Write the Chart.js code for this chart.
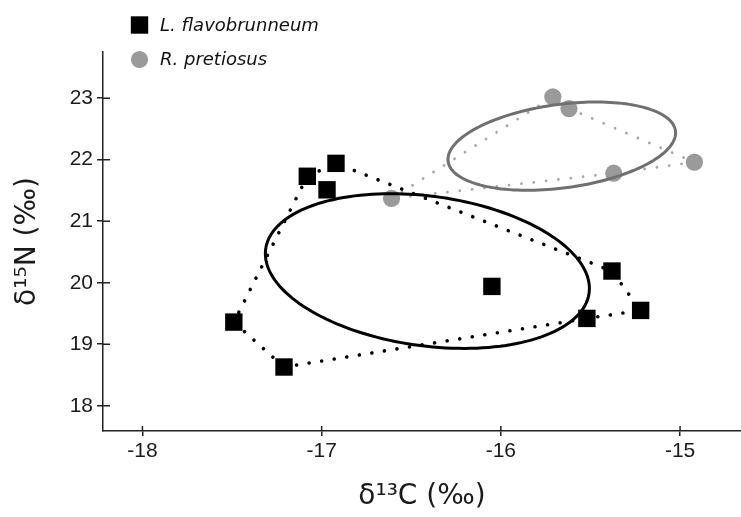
<!DOCTYPE html>
<html lang="en">

<head>
  <meta charset="UTF-8">
  <title>Isotopic niches - L. flavobrunneum vs R. pretiosus</title>
  <script src="https://cdn.jsdelivr.net/npm/chart.js"></script>
  <style>
    * {
      margin: 0;
      padding: 0;
      box-sizing: border-box;
    }

    html,
    body {
      background: #fff;
      overflow: hidden;
    }

    .chart-box {
      position: relative;
      width: 741px;
      height: 517px;
    }

    canvas {
      display: block;
    }
  </style>
</head>

<body>
  <div class="chart-box">
    <canvas id="isoChart"></canvas>
  </div>

  <script>
    // L. flavobrunneum (d13C, d15N)
    const lfCarbon = [-17.49, -17.21, -17.08, -16.97, -16.92, -16.05, -15.52, -15.38, -15.22];
    const lfNitrogen = [19.36, 18.63, 21.73, 21.51, 21.94, 19.94, 19.42, 20.19, 19.55];
    const lfHull = [1, 6, 8, 7, 4, 2, 0, 1];
    // standard ellipse: centre x, centre y, semi-axis 1, semi-axis 2, angle of axis 1 (deg)
    const lfEllipse = [-16.41, 20.19, 0.860, 1.288, 16.9];

    // R. pretiosus
    const rpCarbon = [-16.61, -15.71, -15.62, -15.37, -14.92];
    const rpNitrogen = [21.37, 23.02, 22.83, 21.78, 21.96];
    const rpHull = [0, 1, 2, 4, 3, 0];
    const rpEllipse = [-15.66, 22.22, 0.779, 0.558, 56.1];

    const xTicks = [-18, -17, -16, -15];
    const yTicks = [18, 19, 20, 21, 22, 23];
    const xRange = [-18.22, -14.66];
    const yRange = [17.59, 23.75];

    const toPoints = (xs, ys) => xs.map((v, i) => ({ x: v, y: ys[i] }));
    const hullPoints = (xs, ys, order) => order.map(i => ({ x: xs[i], y: ys[i] }));

    function drawEllipse(chart, ell, color) {
      const { ctx, scales: { x, y } } = chart;
      const [cx, cy, r1, r2, deg] = ell;
      const a = deg * Math.PI / 180;
      ctx.save();
      ctx.beginPath();
      for (let i = 0; i <= 160; i++) {
        const t = i / 160 * Math.PI * 2;
        const dx = r1 * Math.cos(t) * Math.cos(a) - r2 * Math.sin(t) * Math.sin(a);
        const dy = r1 * Math.cos(t) * Math.sin(a) + r2 * Math.sin(t) * Math.cos(a);
        const px = x.getPixelForValue(cx + dx);
        const py = y.getPixelForValue(cy + dy);
        if (i === 0) ctx.moveTo(px, py); else ctx.lineTo(px, py);
      }
      ctx.closePath();
      ctx.lineWidth = 3;
      ctx.strokeStyle = color;
      ctx.stroke();
      ctx.restore();
    }

    // ellipses go on top of the grey points but under the squares
    const ellipsePlugin = {
      id: 'ellipses',
      afterDatasetDraw(chart, args) {
        if (args.index !== 1) return;
        drawEllipse(chart, rpEllipse, '#707070');
        drawEllipse(chart, lfEllipse, '#000');
      }
    };

    // small tick marks that cross into the plot area
    const innerTicks = {
      id: 'innerTicks',
      afterDraw(chart) {
        const { ctx, chartArea, scales: { x, y } } = chart;
        ctx.save();
        ctx.strokeStyle = '#222';
        ctx.lineWidth = 1.5;
        ctx.beginPath();
        x.ticks.forEach(t => {
          const px = x.getPixelForValue(t.value);
          ctx.moveTo(px, chartArea.bottom);
          ctx.lineTo(px, chartArea.bottom - 5);
        });
        y.ticks.forEach(t => {
          const py = y.getPixelForValue(t.value);
          ctx.moveTo(chartArea.left, py);
          ctx.lineTo(chartArea.left + 7, py);
        });
        ctx.stroke();
        ctx.restore();
      }
    };

    // legend in the top left corner, two rows
    const cornerLegend = {
      id: 'cornerLegend',
      afterDraw(chart) {
        const ctx = chart.ctx;
        [0, 1].forEach(i => {
          const ds = chart.data.datasets[i];
          const cy = 25 + i * 34.5;
          ctx.save();
          ctx.fillStyle = ds.backgroundColor;
          Chart.helpers.drawPoint(ctx, { pointStyle: ds.pointStyle, radius: ds.pointRadius, borderWidth: 0, rotation: 0 }, 139.5, cy);
          ctx.font = 'italic 18px "DejaVu Sans"';
          ctx.textBaseline = 'middle';
          ctx.fillStyle = '#111';
          ctx.fillText(ds.label, 160, cy + 1);
          ctx.restore();
        });
      }
    };

    const tickFont = { family: '"Liberation Sans", Arial, sans-serif', size: 21 };
    const titleFont = { family: '"DejaVu Sans", Verdana, sans-serif', size: 28 };

    new Chart(document.getElementById('isoChart'), {
      type: 'scatter',
      data: {
        datasets: [{
            label: 'L. flavobrunneum',
            data: toPoints(lfCarbon, lfNitrogen),
            pointStyle: 'rect',
            pointRadius: 12.3,
            backgroundColor: '#000',
            borderWidth: 0,
          },
          {
            label: 'R. pretiosus',
            data: toPoints(rpCarbon, rpNitrogen),
            pointStyle: 'circle',
            pointRadius: 8.6,
            backgroundColor: '#9a9a9a',
            borderWidth: 0,
          },
          {
            label: 'L. flavobrunneum hull',
            data: hullPoints(lfCarbon, lfNitrogen, lfHull),
            showLine: true,
            pointRadius: 0,
            borderColor: '#000',
            borderWidth: 3.6,
            borderDash: [0.01, 12.7],
            borderCapStyle: 'round',
            tension: 0,
          },
          {
            label: 'R. pretiosus hull',
            data: hullPoints(rpCarbon, rpNitrogen, rpHull),
            showLine: true,
            pointRadius: 0,
            borderColor: '#a6a6a6',
            borderWidth: 2.8,
            borderDash: [0.01, 12.4],
            borderCapStyle: 'round',
            tension: 0,
          },
        ],
      },
      options: {
        responsive: true,
        maintainAspectRatio: false,
        animation: false,
        layout: {
          autoPadding: false,
          padding: { top: 52, right: 0, bottom: 0, left: 0 },
        },
        plugins: {
          legend: { display: false },
          tooltip: { enabled: false },
        },
        scales: {
          x: {
            type: 'linear',
            min: xRange[0],
            max: xRange[1],
            afterBuildTicks: s => { s.ticks = xTicks.map(v => ({ value: v })); },
            afterFit: s => { s.height = 86; },
            ticks: { font: tickFont, color: '#1a1a1a', padding: 3, callback: v => String(v) },
            grid: { drawOnChartArea: false, tickLength: 5, color: '#222', lineWidth: 1.5 },
            border: { color: '#222', width: 1.5 },
            title: { display: true, text: 'δ¹³C (‰)', font: titleFont, color: '#1a1a1a', padding: { top: 0, bottom: 3 } },
          },
          y: {
            type: 'linear',
            min: yRange[0],
            max: yRange[1],
            afterBuildTicks: s => { s.ticks = yTicks.map(v => ({ value: v })); },
            afterFit: s => { s.width = 103; },
            ticks: { font: tickFont, color: '#1a1a1a', padding: 4, callback: v => String(v) },
            grid: { drawOnChartArea: false, tickLength: 6, color: '#222', lineWidth: 1.5 },
            border: { color: '#222', width: 1.5 },
            title: { display: true, text: 'δ¹⁵N (‰)', font: titleFont, color: '#1a1a1a', padding: { top: 11, bottom: 0 } },
          },
        },
      },
      plugins: [ellipsePlugin, innerTicks, cornerLegend],
    });
  </script>
</body>

</html>
